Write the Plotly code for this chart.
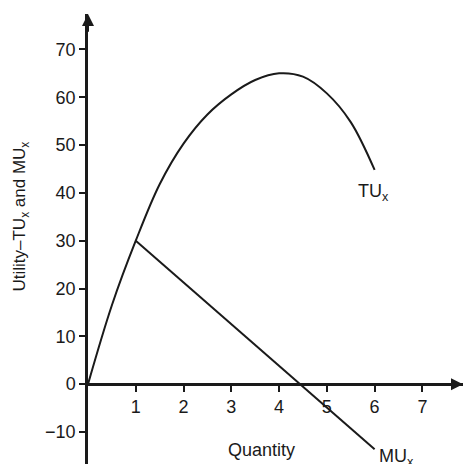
import plotly.graph_objects as go

# Data
tu_q = [0, 0.5, 1, 1.5, 2, 2.5, 3, 3.5, 4, 4.5, 5, 5.5, 6]
tu_vals = [0, 16.5, 30, 41.8, 50.3, 56.4, 60.6, 63.6, 65, 64.3, 60.8, 54.8, 44.8]
mu_q = [1, 6]
mu_vals = [30, -13.6]
x_ticks = [1, 2, 3, 4, 5, 6, 7]
y_ticks = [-10, 0, 10, 20, 30, 40, 50, 60, 70]

XMIN, XMAX = 0, 7.85
YMIN, YMAX = -16.7, 77.4
INK = "#1a1a1a"
FONT = "Liberation Sans, Arial, sans-serif"

fig = go.Figure()
fig.add_trace(go.Scatter(x=tu_q, y=tu_vals, mode="lines",
                         line=dict(color=INK, width=2, shape="spline", smoothing=1.0),
                         hoverinfo="skip", showlegend=False))
fig.add_trace(go.Scatter(x=mu_q, y=mu_vals, mode="lines",
                         line=dict(color=INK, width=2),
                         hoverinfo="skip", showlegend=False))

x_axis_pos = (0 - YMIN) / (YMAX - YMIN)

fig.update_layout(
    width=464, height=464,
    margin=dict(l=88, r=1, t=14, b=0, pad=0),
    paper_bgcolor="white", plot_bgcolor="white",
    font=dict(family=FONT, size=18, color=INK),
    xaxis=dict(range=[XMIN, XMAX], anchor="free", position=x_axis_pos,
               showline=True, linecolor=INK, linewidth=2.5,
               ticks="outside", tickvals=x_ticks, ticklen=6, tickwidth=2, tickcolor=INK,
               showgrid=False, zeroline=False, tickfont=dict(size=18)),
    yaxis=dict(range=[YMIN, YMAX], showline=True, linecolor=INK, linewidth=2.5,
               ticks="outside", tickvals=y_ticks, ticklen=6, tickwidth=2, tickcolor=INK,
               showgrid=False, zeroline=False, tickfont=dict(size=18)),
)

annotations = [
    # axis arrowheads
    dict(x=0, y=YMAX, ax=0, ay=YMAX - 4, xref="x", yref="y", axref="x", ayref="y",
         showarrow=True, arrowhead=2, arrowsize=1.2, arrowwidth=2, arrowcolor=INK, text=""),
    dict(x=XMAX, y=0, ax=XMAX - 0.4, ay=0, xref="x", yref="y", axref="x", ayref="y",
         showarrow=True, arrowhead=2, arrowsize=1.2, arrowwidth=2, arrowcolor=INK, text=""),
    # labels
    dict(x=5.6, y=40, xref="x", yref="y", text="TU<sub>x</sub>", showarrow=False,
         xanchor="left", yanchor="middle", font=dict(size=18, color=INK)),
    dict(x=6.05, y=-15.4, xref="x", yref="y", text="MU<sub>x</sub>", showarrow=False,
         xanchor="left", yanchor="middle", font=dict(size=18, color=INK)),
    dict(x=3.64, y=-13.8, xref="x", yref="y", text="Quantity", showarrow=False,
         xanchor="center", yanchor="middle", font=dict(size=18, color=INK)),
    dict(x=-0.178, y=35.1, xref="paper", yref="y", text="Utility\u2013TU<sub>x</sub> and MU<sub>x</sub>",
         showarrow=False, textangle=-90, xanchor="center", yanchor="middle",
         font=dict(size=17, color=INK)),
]
fig.update_layout(annotations=annotations)

fig.write_html("out.html", config={"displayModeBar": False},
               post_script="document.body.style.margin='0';document.body.style.overflow='hidden';")
